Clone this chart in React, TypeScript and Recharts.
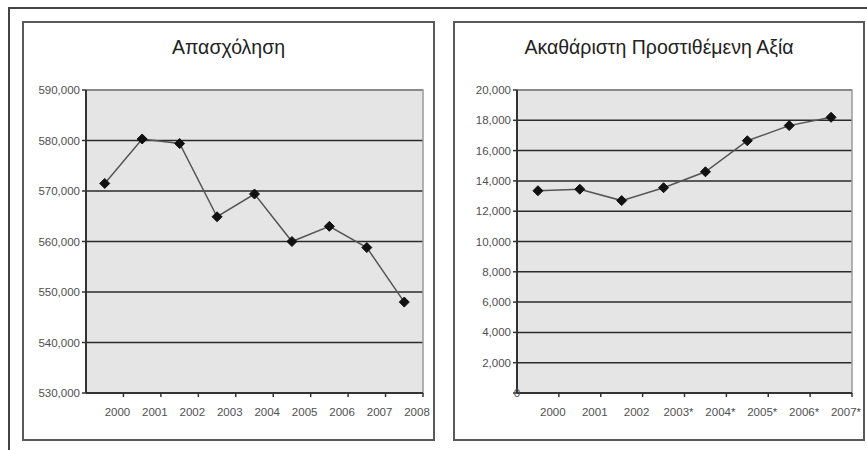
import React from 'react'
import { LineChart, Line, XAxis, YAxis, CartesianGrid, ReferenceArea } from 'recharts'

// Απασχόληση
const employmentYears = ['2000', '2001', '2002', '2003', '2004', '2005', '2006', '2007', '2008']
const employmentValues = [571500, 580300, 579400, 564900, 569400, 560000, 563000, 558800, 548000]
const employmentTicks = [530000, 540000, 550000, 560000, 570000, 580000, 590000]

// Ακαθάριστη Προστιθέμενη Αξία
const gvaYears = ['2000', '2001', '2002', '2003*', '2004*', '2005*', '2006*', '2007*']
const gvaValues = [13350, 13450, 12700, 13550, 14600, 16650, 17650, 18200]
const gvaTicks = [0, 2000, 4000, 6000, 8000, 10000, 12000, 14000, 16000, 18000, 20000]

const FONT = '"Liberation Sans", Arial, sans-serif'
const TICK_COLOR = '#505050'

const Diamond = (props: any) => {
  const { cx, cy, index } = props
  if (cx == null || cy == null) return null
  const r = 5
  return (
    <polygon
      key={`d-${index}`}
      points={`${cx},${cy - r} ${cx + r},${cy} ${cx},${cy + r} ${cx - r},${cy}`}
      fill="#111"
      stroke="#111"
    />
  )
}

const YTick = (props: any) => {
  const { x, y, payload } = props
  const v = payload.value
  if (v === 0) {
    return (
      <text x={x + 6} y={y} dy={4} textAnchor="middle" fontSize={11.5} fill={TICK_COLOR} fontFamily={FONT}>0</text>
    )
  }
  return (
    <text x={x} y={y} dy={4} textAnchor="end" fontSize={11.5} fill={TICK_COLOR} fontFamily={FONT}>
      {v.toLocaleString('en-US')}
    </text>
  )
}

const makeXTick = (years: string[]) => (props: any) => {
  const { x, y, payload } = props
  return (
    <text x={x - 6} y={y} dy={10} textAnchor="middle" fontSize={11.5} fill={TICK_COLOR} fontFamily={FONT}>
      {years[payload.value - 1]}
    </text>
  )
}

interface PanelProps {
  left: number
  width: number
  title: string
  years: string[]
  values: number[]
  yTicks: number[]
  yAxisWidth: number
  marginRight: number
}

function Panel({ left, width, title, years, values, yTicks, yAxisWidth, marginRight }: PanelProps) {
  const data = years.map((year, i) => ({ pos: i + 0.5, year, value: values[i] }))
  const xTicks = years.map((_, i) => i + 1)
  const yMin = yTicks[0]
  const yMax = yTicks[yTicks.length - 1]
  const height = 420

  return (
    <>
      <div
        style={{
          position: 'absolute', left, top: 21, width, height,
          boxSizing: 'border-box', border: '2px solid #5a5a5a'
        }}
      />
      <div
        style={{
          position: 'absolute', left, top: 36, width, textAlign: 'center',
          fontFamily: FONT, fontSize: 19.5, color: '#222'
        }}
      >
        {title}
      </div>
      <div style={{ position: 'absolute', left, top: 21 }}>
        <LineChart
          width={width}
          height={height}
          data={data}
          margin={{ top: 69, right: marginRight, bottom: 27, left: 64 - yAxisWidth }}
        >
          <CartesianGrid vertical={false} fill="#e5e5e5" stroke="#2a2a2a" strokeWidth={1.5} />
          <ReferenceArea
            x1={0} x2={years.length} y1={yMin} y2={yMax}
            fill="none" stroke="#9a9a9a" strokeWidth={1.5} fillOpacity={0}
          />
          <XAxis
            dataKey="pos"
            type="number"
            domain={[0, years.length]}
            ticks={xTicks}
            interval={0}
            tickSize={4}
            tickMargin={9}
            height={21}
            tick={makeXTick(years)}
            axisLine={{ stroke: '#333', strokeWidth: 2 }}
            tickLine={{ stroke: '#333', strokeWidth: 1.5 }}
          />
          <YAxis
            type="number"
            domain={[yMin, yMax]}
            ticks={yTicks}
            interval={0}
            width={yAxisWidth}
            tickSize={4}
            tick={<YTick />}
            axisLine={{ stroke: '#333', strokeWidth: 2 }}
            tickLine={{ stroke: '#333', strokeWidth: 1.5 }}
          />
          <Line
            type="linear"
            dataKey="value"
            stroke="#555"
            strokeWidth={1.5}
            dot={Diamond}
            activeDot={false}
            isAnimationActive={false}
          />
        </LineChart>
      </div>
    </>
  )
}

export default function App() {
  return (
    <div
      style={{
        position: 'absolute', left: 0, top: 0, width: 867, height: 450,
        overflow: 'hidden', background: '#fff'
      }}
    >
      <div
        style={{
          position: 'absolute', left: 8, top: 7, width: 900, height: 500,
          borderTop: '2px solid #444', borderLeft: '2px solid #444'
        }}
      />
      <Panel
        left={22}
        width={413}
        title="Απασχόληση"
        years={employmentYears}
        values={employmentValues}
        yTicks={employmentTicks}
        yAxisWidth={56}
        marginRight={12}
      />
      <Panel
        left={453}
        width={412}
        title="Ακαθάριστη Προστιθέμενη Αξία"
        years={gvaYears}
        values={gvaValues}
        yTicks={gvaTicks}
        yAxisWidth={50}
        marginRight={13}
      />
    </div>
  )
}
